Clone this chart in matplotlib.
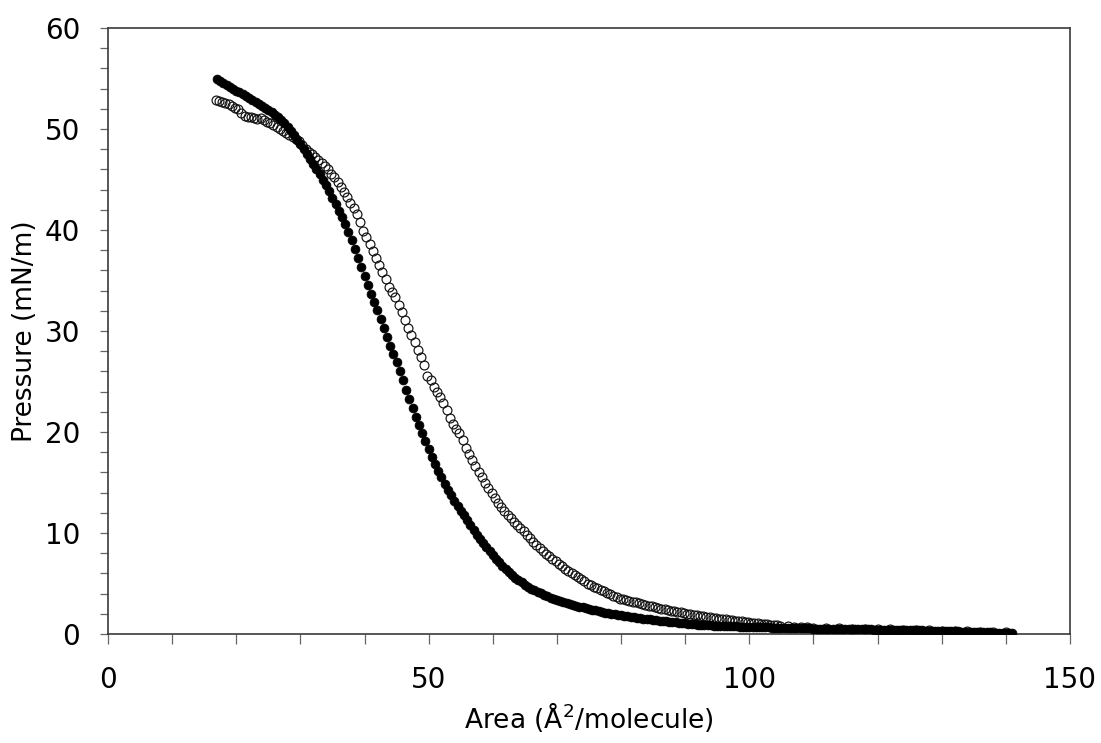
import matplotlib
matplotlib.use("Agg")
import matplotlib.pyplot as plt
from matplotlib.ticker import MultipleLocator

# Filled-circle isotherm (area in A^2/molecule, pressure in mN/m)
filled_area = [
    17.0, 17.5, 18.0, 18.5, 19.0, 19.5, 20.0, 20.5, 21.0, 21.5, 22.0, 22.5, 23.0, 23.5,
    24.0, 24.5, 25.0, 25.5, 26.0, 26.5, 27.0, 27.5, 28.0, 28.5, 29.0, 29.5, 30.0, 30.5,
    31.0, 31.5, 32.0, 32.5, 33.0, 33.5, 34.0, 34.5, 35.0, 35.5, 36.0, 36.5, 37.0, 37.5,
    38.0, 38.5, 39.0, 39.5, 40.0, 40.5, 41.0, 41.5, 42.0, 42.5, 43.0, 43.5, 44.0, 44.5,
    45.0, 45.5, 46.0, 46.5, 47.0, 47.5, 48.0, 48.5, 49.0, 49.5, 50.0, 50.5, 51.0, 51.5,
    52.0, 52.5, 53.0, 53.5, 54.0, 54.5, 55.0, 55.5, 56.0, 56.5, 57.0, 57.5, 58.0, 58.5,
    59.0, 59.5, 60.0, 60.5, 61.0, 61.5, 62.0, 62.5, 63.0, 63.5, 64.0, 64.5, 65.0, 65.5,
    66.0, 66.5, 67.0, 67.5, 68.0, 68.5, 69.0, 69.5, 70.0, 70.5, 71.0, 71.5, 72.0, 72.5,
    73.0, 73.5, 74.0, 74.5, 75.0, 75.5, 76.0, 76.5, 77.0, 77.5, 78.0, 78.5, 79.0, 79.5,
    80.0,
    80.5, 81.0, 81.5, 82.0, 82.5, 83.0, 83.5, 84.0, 84.5, 85.0,
    85.5, 86.0, 86.5, 87.0, 87.5, 88.0, 88.5, 89.0, 89.5, 90.0,
    90.5, 91.0, 91.5, 92.0, 92.5, 93.0, 93.5, 94.0, 94.5, 95.0,
    95.5, 96.0, 96.5, 97.0, 97.5, 98.0, 98.5, 99.0, 99.5, 100.0,
    100.5, 101.0, 101.5, 102.0, 102.5, 103.0, 103.5, 104.0, 104.5, 105.0,
    105.5, 106.0, 106.5, 107.0, 107.5, 108.0, 108.5, 109.0, 109.5, 110.0,
    110.5, 111.0, 111.5, 112.0, 112.5, 113.0, 113.5, 114.0, 114.5, 115.0,
    115.5, 116.0, 116.5, 117.0, 117.5, 118.0, 118.5, 119.0, 119.5, 120.0,
    120.5, 121.0, 121.5, 122.0, 122.5, 123.0, 123.5, 124.0, 124.5, 125.0,
    125.5, 126.0, 126.5, 127.0, 127.5, 128.0, 128.5, 129.0, 129.5, 130.0,
    130.5, 131.0, 131.5, 132.0, 132.5, 133.0, 133.5, 134.0, 134.5, 135.0,
    135.5, 136.0, 136.5, 137.0, 137.5, 138.0, 138.5, 139.0, 139.5, 140.0,
    140.5, 141.0,
]
filled_pressure = [
    55.0, 54.8, 54.6, 54.4, 54.2, 54.0, 53.8, 53.65, 53.5, 53.3, 53.1, 52.9, 52.7, 52.5,
    52.3, 52.1, 51.9, 51.65, 51.4, 51.15, 50.9, 50.55, 50.2, 49.8, 49.4, 48.95, 48.5, 48.0,
    47.5, 47.0, 46.5, 46.0, 45.5, 45.0, 44.5, 43.85, 43.2, 42.55, 41.9, 41.25, 40.6, 39.8,
    39.0, 38.1, 37.2, 36.3, 35.4, 34.55, 33.7, 32.9, 32.1, 31.2, 30.3, 29.4, 28.5, 27.7,
    26.9, 26.0, 25.1, 24.2, 23.3, 22.4, 21.5, 20.7, 19.9, 19.1, 18.3, 17.55, 16.8, 16.15,
    15.5, 14.9, 14.3, 13.75, 13.2, 12.7, 12.2, 11.75, 11.3, 10.8, 10.3, 9.85, 9.4, 9.0,
    8.6, 8.2, 7.8, 7.45, 7.1, 6.75, 6.4, 6.1, 5.8, 5.55, 5.3, 5.1, 4.9, 4.7,
    4.5, 4.35, 4.2, 4.05, 3.9, 3.75, 3.6, 3.48, 3.35, 3.25, 3.15, 3.05, 2.95, 2.88,
    2.8, 2.72, 2.65, 2.58, 2.5, 2.42, 2.35, 2.28, 2.2, 2.12, 2.05, 2.0, 1.95, 1.9,
    1.85,
    1.80, 1.75, 1.70, 1.66, 1.61, 1.57, 1.52, 1.48, 1.44, 1.40,
    1.36, 1.32, 1.28, 1.25, 1.21, 1.18, 1.14, 1.11, 1.08, 1.05,
    1.02, 0.99, 0.96, 0.94, 0.92, 0.90, 0.88, 0.86, 0.84, 0.83,
    0.81, 0.80, 0.78, 0.77, 0.76, 0.75, 0.74, 0.73, 0.72, 0.71,
    0.70, 0.69, 0.68, 0.67, 0.66, 0.65, 0.64, 0.63, 0.62, 0.61,
    0.60, 0.59, 0.59, 0.58, 0.57, 0.56, 0.56, 0.55, 0.55, 0.54,
    0.53, 0.53, 0.52, 0.52, 0.51, 0.51, 0.50, 0.50, 0.49, 0.49,
    0.48, 0.48, 0.47, 0.47, 0.46, 0.46, 0.45, 0.45, 0.44, 0.44,
    0.43, 0.43, 0.42, 0.42, 0.41, 0.41, 0.40, 0.40, 0.39, 0.38,
    0.37, 0.36, 0.36, 0.35, 0.34, 0.33, 0.33, 0.32, 0.31, 0.30,
    0.29, 0.28, 0.27, 0.26, 0.25, 0.24, 0.23, 0.22, 0.21, 0.20,
    0.19, 0.18, 0.17, 0.16, 0.15, 0.14, 0.13, 0.12, 0.12, 0.11,
    0.10, 0.10,
]

# Open-circle isotherm
open_area = [
    16.8, 17.3, 17.8, 18.3, 18.8, 19.3, 19.8, 20.3, 20.8, 21.3, 21.8, 22.3, 22.8, 23.3,
    23.8, 24.3, 24.8, 25.3, 25.8, 26.3, 26.8, 27.3, 27.8, 28.3, 28.8, 29.3, 29.8, 30.3,
    30.8, 31.3, 31.8, 32.3, 32.8, 33.3, 33.8, 34.3, 34.8, 35.3, 35.8, 36.3, 36.8, 37.3,
    37.8, 38.3, 38.8, 39.3, 39.8, 40.3, 40.8, 41.3, 41.8, 42.3, 42.8, 43.3, 43.8, 44.3,
    44.8, 45.3, 45.8, 46.3, 46.8, 47.3, 47.8, 48.3, 48.8, 49.3, 49.8, 50.3, 50.8, 51.3,
    51.8, 52.3, 52.8, 53.3, 53.8, 54.3, 54.8, 55.3, 55.8, 56.3, 56.8, 57.3, 57.8, 58.3,
    58.8, 59.3, 59.8, 60.3, 60.8, 61.3, 61.8, 62.3, 62.8, 63.3, 63.8, 64.3, 64.8, 65.3,
    65.8, 66.3, 66.8, 67.3, 67.8, 68.3, 68.8, 69.3, 69.8, 70.3, 70.8, 71.3, 71.8, 72.3,
    72.8, 73.3, 73.8, 74.3, 74.8, 75.3, 75.8, 76.3, 76.8, 77.3, 77.8, 78.3, 78.8, 79.3,
    79.8, 80.3, 80.8, 81.3, 81.8, 82.3, 82.8, 83.3, 83.8, 84.3, 84.8, 85.3, 85.8, 86.3,
    86.8, 87.3, 87.8, 88.3, 88.8, 89.3, 89.8, 90.3, 90.8, 91.3, 91.8, 92.3, 92.8, 93.3,
    93.8, 94.3, 94.8, 95.3, 95.8, 96.3, 96.8, 97.3, 97.8, 98.3, 98.8, 99.3, 99.8, 100.3,
    100.8, 101.3, 101.8, 102.3, 102.8, 103.3, 103.8, 104.3, 104.8, 106, 107, 108, 109, 110,
    112, 114, 116, 118, 120, 122, 124, 126, 128, 130, 132, 134, 136, 138, 140,
]
open_pressure = [
    52.85, 52.8, 52.7, 52.6, 52.5, 52.3, 52.1, 52.0, 51.6, 51.3, 51.2, 51.2, 51.1, 51.0,
    51.1, 50.9, 50.7, 50.6, 50.4, 50.2, 50.0, 49.8, 49.6, 49.4, 49.2, 49.0, 48.8, 48.4,
    48.0, 47.7, 47.5, 47.2, 46.9, 46.6, 46.3, 46.0, 45.5, 45.2, 44.8, 44.3, 43.8, 43.3,
    42.7, 42.2, 41.6, 40.8, 39.9, 39.3, 38.6, 37.9, 37.2, 36.5, 35.8, 35.1, 34.4, 33.9,
    33.4, 32.6, 31.9, 31.1, 30.3, 29.6, 28.9, 28.1, 27.4, 26.6, 25.5, 25.1, 24.5, 24.0,
    23.5, 22.9, 22.2, 21.4, 20.8, 20.3, 19.9, 19.2, 18.4, 17.8, 17.2, 16.6, 16.0, 15.5,
    15.0, 14.5, 14.0, 13.5, 13.0, 12.6, 12.2, 11.8, 11.5, 11.1, 10.8, 10.5, 10.2, 9.8,
    9.5, 9.1, 8.8, 8.5, 8.2, 7.95, 7.7, 7.45, 7.2, 6.95, 6.7, 6.45, 6.25, 6.0,
    5.8, 5.6, 5.4, 5.2, 5.0, 4.85, 4.7, 4.55, 4.4, 4.25, 4.1, 3.95, 3.8, 3.65,
    3.5, 3.45, 3.35, 3.28, 3.2, 3.12, 3.05, 2.98, 2.9, 2.82, 2.74, 2.66, 2.58, 2.52,
    2.45, 2.39, 2.32, 2.26, 2.2, 2.14, 2.08, 2.02, 1.96, 1.91, 1.85, 1.8, 1.75, 1.7,
    1.65, 1.61, 1.56, 1.52, 1.48, 1.44, 1.4, 1.36, 1.32, 1.28, 1.24, 1.2, 1.16, 1.12,
    1.08, 1.05, 1.01, 0.98, 0.95, 0.92, 0.89, 0.87, 0.84, 0.78, 0.74, 0.7, 0.66, 0.63,
    0.58, 0.55, 0.52, 0.49, 0.47, 0.45, 0.43, 0.40, 0.37, 0.34, 0.30, 0.27, 0.23, 0.19, 0.15,
]

x_ticks = [0, 50, 100, 150]
y_ticks = [0, 10, 20, 30, 40, 50, 60]

fig = plt.figure(figsize=(11.01, 7.43), dpi=100)
ax = fig.add_axes([0.0981, 0.1467, 0.8737, 0.8156])

ax.plot(open_area, open_pressure, linestyle="none", marker="o", markersize=6.4,
        markerfacecolor="none", markeredgecolor="#111111", markeredgewidth=0.85, zorder=2)
ax.plot(filled_area, filled_pressure, linestyle="none", marker="o", markersize=6.4,
        markerfacecolor="black", markeredgecolor="black", markeredgewidth=0.5, zorder=3)

ax.set_xlim(0, 150)
ax.set_ylim(0, 60)
ax.set_xticks(x_ticks)
ax.set_yticks(y_ticks)
ax.xaxis.set_minor_locator(MultipleLocator(10))
ax.yaxis.set_minor_locator(MultipleLocator(2))

for s in ax.spines.values():
    s.set_color("#3a3a3a")
    s.set_linewidth(1.2)

ax.tick_params(axis="both", which="both", direction="out", color="#666666", width=0.9)
ax.tick_params(axis="x", which="both", length=7, pad=16, labelsize=20)
ax.tick_params(axis="y", which="both", length=6, pad=14, labelsize=20)

ax.set_xlabel("Area (Å$^2$/molecule)", fontsize=19, labelpad=4)
ax.set_ylabel("Pressure (mN/m)", fontsize=19, labelpad=5)

fig.savefig("out.png", dpi=100)
